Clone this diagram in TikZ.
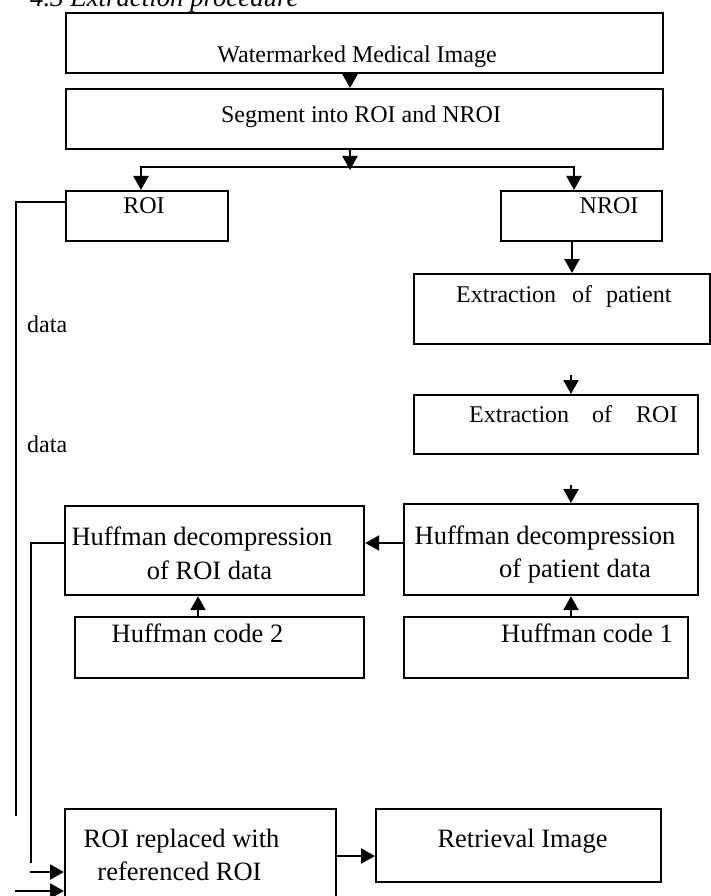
\documentclass[tikz,border=0pt]{standalone}
\usepackage{fontspec}
\setmainfont{Liberation Serif}
\usetikzlibrary{arrows.meta,calc}
\newcommand\fsA{\fontsize{24}{28}\selectfont}
\newcommand\fsB{\fontsize{26.5}{32}\selectfont}
\newcommand\fsT{\fontsize{26.8}{32}\selectfont\itshape}
\begin{document}
\begin{tikzpicture}[x=1pt,y=-1pt,
  box/.style={draw,line width=2.2pt,inner sep=0pt,anchor=north west},
  ln/.style={line width=2.2pt},
  arr/.style={line width=2.2pt,-{Triangle[length=14pt,width=15pt]}},
  txt/.style={inner sep=0pt,text height=.68em,text depth=.2em},
  ta/.style={txt,font=\fsA},
  tb/.style={txt,font=\fsB}]
\useasboundingbox (0,0) rectangle (710,896);
% title (cut at the top edge, as in the reference)
\node[anchor=base west,inner sep=0pt,font=\fsT] (title) at (30,7) {4.3 Extraction procedure};
% boxes
\node[box,minimum width=597pt,minimum height=60pt] (wm) at (65,12) {};
\node[box,minimum width=597pt,minimum height=60pt] (seg) at (65,88) {};
\node[box,minimum width=162pt,minimum height=50pt] (roi) at (65,190) {};
\node[box,minimum width=161pt,minimum height=50pt] (nroi) at (500,190) {};
\node[box,minimum width=296pt,minimum height=70pt] (extp) at (413,273) {};
\node[box,minimum width=284pt,minimum height=59pt] (exr) at (413,394) {};
\node[box,minimum width=294pt,minimum height=91pt] (pdec) at (403,503) {};
\node[box,minimum width=299pt,minimum height=89pt] (rdec) at (64,505) {};
\node[box,minimum width=284pt,minimum height=61pt] (code1) at (403,616) {};
\node[box,minimum width=289pt,minimum height=61pt] (code2) at (74,616) {};
\node[box,minimum width=271pt,minimum height=110pt] (rep) at (64,808) {};
\node[box,minimum width=285pt,minimum height=73pt] (ret) at (375,808) {};
% texts
\node[ta] (twm) at (357,60) {Watermarked Medical Image};
\node[ta] (tseg) at (361,120) {Segment into ROI and NROI};
\node[ta] (troi) at (144,211) {ROI};
\node[ta] (tnroi) at (609,211) {NROI};
\node[ta,anchor=west] (td1) at (27,330) {data};
\node[ta,anchor=west] (td2) at (27,450) {data};
\node[ta,anchor=west] (textp) at (456,300) {Extraction\hspace{16pt}of\hspace{14pt}patient};
\node[ta,anchor=west] (texr) at (469,420) {Extraction\hspace{23pt}of\hspace{24pt}ROI};
\node[tb] (tpd1) at (545,542) {Huffman decompression};
\node[tb] (tpd2) at (575,575) {of patient data};
\node[tb] (trd1) at (202,543) {Huffman decompression};
\node[tb] (trd2) at (209.5,577) {of ROI data};
\node[tb] (tc1) at (587,640) {Huffman code 1};
\node[tb] (tc2) at (197.5,640) {Huffman code 2};
\node[tb] (trep1) at (181.5,845) {ROI replaced with};
\node[tb] (trep2) at (179.5,878) {referenced ROI};
\node[tb] (tret) at (522.5,845) {Retrieval Image};
% helper coordinates
\coordinate (xa) at (350,0);
\coordinate (hl) at (141,167);
\coordinate (hr) at (574,167);
\coordinate (jn) at (350,170);
\coordinate (xr) at (572,0);
\coordinate (xs) at (571,0);
\coordinate (xc2) at (198,0);
\coordinate (s1) at (571,375);
\coordinate (s2) at (571,485);
\coordinate (l1) at (16,202);
\coordinate (l1e) at (16,816);
\coordinate (l2) at (31,543);
\coordinate (l2e) at (31,863);
\coordinate (a1) at (30,872);
\coordinate (a2) at (15,891);
\coordinate (ya) at (0,543);
\coordinate (yb) at (0,856);
% connectors
\draw[arr] (wm.south -| xa) -- (seg.north -| xa);
\draw[arr] (seg.south -| xa) -- (jn);
\draw[{Triangle[length=14pt,width=15pt]}-{Triangle[length=14pt,width=15pt]},line width=2.2pt]
  (roi.north -| hl) -- (hl) -- (hr) -- (nroi.north -| hr);
\draw[arr] (nroi.south -| xr) -- (extp.north -| xr);
\draw[arr] (s1) -- (exr.north -| s1);
\draw[arr] (s2) -- (pdec.north -| s2);
\draw[arr] (pdec.west |- ya) -- (rdec.east |- ya);
\draw[arr] (code1.north -| xs) -- (pdec.south -| xs);
\draw[arr] (code2.north -| xc2) -- (rdec.south -| xc2);
\draw[arr] (rep.east |- yb) -- (ret.west |- yb);
\draw[ln] (roi.west |- l1) -- (l1) -- (l1e);
\draw[ln] (rdec.west |- l2) -- (l2) -- (l2e);
\draw[arr] (a1) -- (rep.west |- a1);
\draw[arr] (a2) -- (rep.west |- a2);
\end{tikzpicture}
\end{document}
